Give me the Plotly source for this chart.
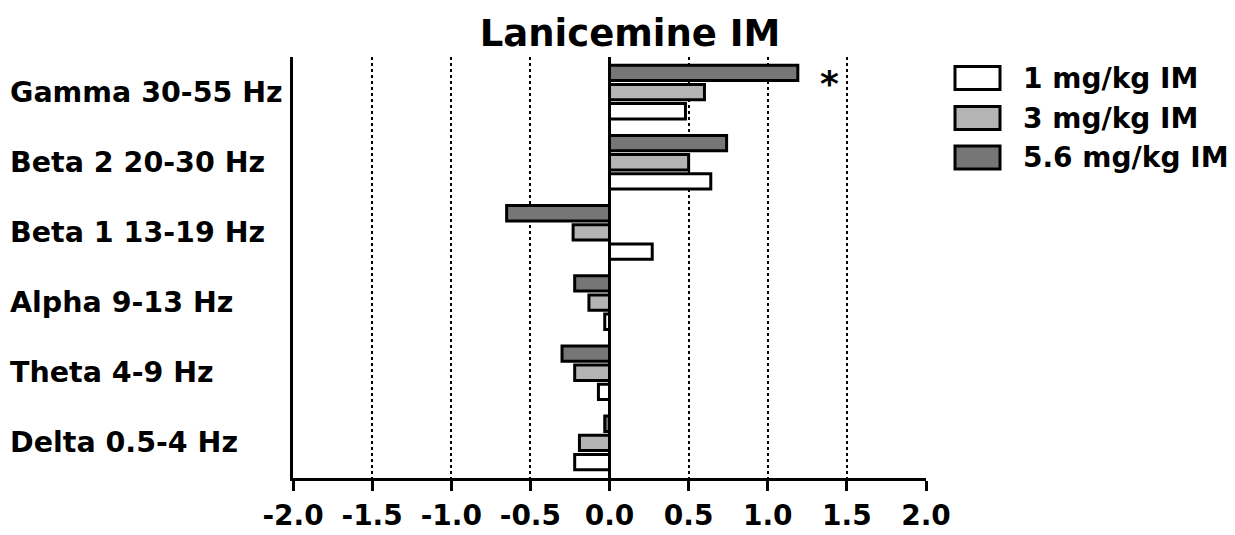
import plotly.graph_objects as go

categories = ["Gamma 30-55 Hz", "Beta 2 20-30 Hz", "Beta 1 13-19 Hz",
              "Alpha 9-13 Hz", "Theta 4-9 Hz", "Delta 0.5-4 Hz"]
series_names = ["1 mg/kg IM", "3 mg/kg IM", "5.6 mg/kg IM"]
dose_1 = [0.48, 0.64, 0.27, -0.03, -0.07, -0.22]
dose_3 = [0.60, 0.50, -0.23, -0.13, -0.22, -0.19]
dose_56 = [1.19, 0.74, -0.65, -0.22, -0.30, -0.03]
x_ticks = [-2.0, -1.5, -1.0, -0.5, 0.0, 0.5, 1.0, 1.5, 2.0]
title_text = "Lanicemine IM"
sig_marker = "*"
sig_category = "Gamma 30-55 Hz"
sig_x = 1.39

colors = ["#ffffff", "#b4b4b4", "#767676"]
series_values = [dose_1, dose_3, dose_56]
FONT = "DejaVu Sans"

# page body has an 8px margin: the figure starts at (8, 8) in the window
OFF = 8
W, H = 1235 - OFF, 535 - OFF
# plot area in screen pixels -> figure pixels
L, R, T, B = 293 - OFF, 926 - OFF, 57 - OFF, 478 - OFF
pw, ph = R - L, B - T


def px(x_screen):
    return (x_screen - OFF - L) / pw


def py(y_screen):
    return (B - (y_screen - OFF)) / ph


fig = go.Figure()
for name, vals, col in zip(series_names, series_values, colors):
    fig.add_trace(go.Bar(
        y=categories, x=vals, name=name, orientation="h",
        marker=dict(color=col, line=dict(color="black", width=3)),
        showlegend=False,
    ))

annotations = []
# y category labels, left aligned
for c in categories:
    annotations.append(dict(
        x=px(8), xref="paper", y=c, yref="y", xanchor="left", yanchor="middle",
        text=c, showarrow=False,
        font=dict(family=FONT, size=28.5, weight="bold", color="black")))
# significance marker
annotations.append(dict(
    x=sig_x, xref="x", y=sig_category, yref="y", yshift=9, text=sig_marker,
    showarrow=False, xanchor="center", yanchor="middle",
    font=dict(family=FONT, size=36, weight="bold", color="black")))

# custom legend (wide swatches)
shapes = []
leg_rows = [78, 118, 157.5]
for name, col, yc in zip(series_names, colors, leg_rows):
    shapes.append(dict(
        type="rect", xref="paper", yref="paper",
        x0=px(955), x1=px(1000),
        y0=py(yc + 11.5), y1=py(yc - 11.5),
        fillcolor=col, line=dict(color="black", width=3)))
    annotations.append(dict(
        x=px(1021), xref="paper", y=py(yc), yref="paper",
        xanchor="left", yanchor="middle", text=name, showarrow=False,
        font=dict(family=FONT, size=28, weight="bold", color="black")))

fig.update_layout(
    width=W, height=H,
    margin=dict(l=L, r=W - R, t=T, b=H - B, pad=0, autoexpand=False),
    paper_bgcolor="white", plot_bgcolor="white",
    barmode="group", bargap=0.18, bargroupgap=0.2,
    title=dict(text=title_text, x=px(630), xref="paper", xanchor="center",
               y=1 - (33 - OFF) / H, yref="container", yanchor="middle",
               automargin=False,
               font=dict(family=FONT, size=37, weight="bold", color="black")),
    xaxis=dict(range=[-2.0, 2.0], tickvals=x_ticks, automargin=False,
               ticktext=[f"{v:.1f}" for v in x_ticks],
               showgrid=True, gridcolor="black", griddash="dot", gridwidth=1.5,
               zeroline=True, zerolinecolor="black", zerolinewidth=3,
               showline=True, linecolor="black", linewidth=3,
               ticks="outside", ticklen=10, tickwidth=3, tickcolor="black",
               tickfont=dict(family=FONT, size=28, weight="bold", color="black")),
    yaxis=dict(categoryorder="array", categoryarray=categories[::-1],
               range=[-0.5, len(categories) - 0.5], automargin=False,
               showgrid=False, zeroline=False,
               showline=True, linecolor="black", linewidth=3,
               ticks="", showticklabels=False),
    annotations=annotations, shapes=shapes,
)

fig.write_html("out.html")
